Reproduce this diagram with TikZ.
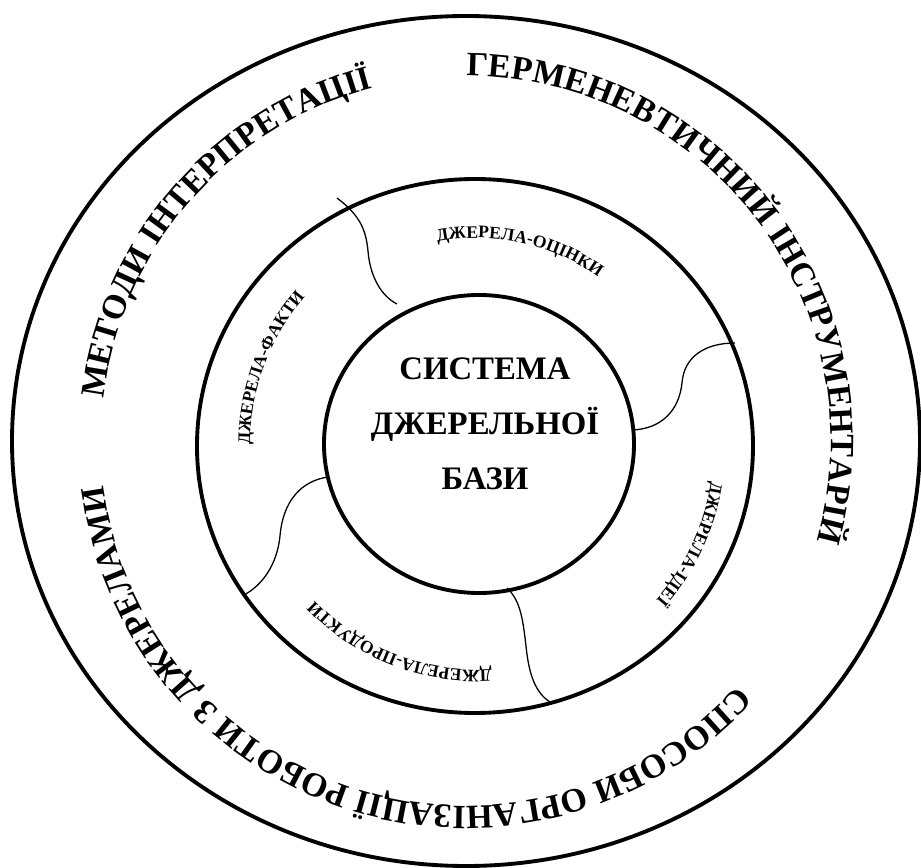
\documentclass[tikz,border=0pt]{standalone}
\usepackage{fontspec}
\setmainfont{Liberation Serif}
\usetikzlibrary{decorations.text}

\newcommand{\ringfont}{\fontsize{29}{29}\selectfont\bfseries}
\newcommand{\partfont}{\fontsize{15}{15}\selectfont\bfseries}
\newcommand{\basefont}{\fontsize{28}{47}\selectfont\bfseries}

\tikzset{
	ring/.style={line width=3.3pt},
	divider/.style={line width=1.1pt},
	ringtext/.style={decorate, decoration={text along path, text align=center, text={#1}}}
}

\begin{document}
\begin{tikzpicture}
	\pgfsetxvec{\pgfpoint{0.03cm}{0.0cm}}
	\pgfsetyvec{\pgfpoint{0.0cm}{0.03cm}}
	\useasboundingbox (-466,-427) rectangle (455,441);

	\coordinate (c) at (0,0);
	\coordinate (m) at (11,-4);

	% three rings
	\draw[ring] (c) ellipse [x radius=454, y radius=425];
	\draw[ring] (9,-5) ellipse [x radius=278, y radius=267];
	\draw[ring] (13,-3) ellipse [x radius=155, y radius=149];

	\node[] at (19,17) [align=center, font=\basefont] (base) {СИСТЕМА\\ДЖЕРЕЛЬНОЇ\\БАЗИ};

	% dividers of the middle ring
	\coordinate (d1a) at (-129,243);
	\coordinate (d1b) at (-69,137);
	\coordinate (d2a) at (269,98);
	\coordinate (d2b) at (166,11);
	\coordinate (d3a) at (41,-147);
	\coordinate (d3b) at (84,-261);
	\coordinate (d4a) at (-138,-36);
	\coordinate (d4b) at (-222,-154);
	\draw[divider] (d1a) .. controls (-105,225) and (-100,210) .. (-98,190) .. controls (-96,165) and (-85,145) .. (d1b);
	\draw[divider] (d2a) .. controls (240,98) and (218,85) .. (216,58) .. controls (213,30) and (195,12) .. (d2b);
	\draw[divider] (d3a) .. controls (55,-160) and (57,-180) .. (60,-205) .. controls (63,-235) and (70,-252) .. (d3b);
	\draw[divider] (d4a) .. controls (-165,-40) and (-183,-60) .. (-186,-95) .. controls (-189,-125) and (-205,-145) .. (d4b);

	% texts of the middle ring
	\path[ringtext={|\partfont|ДЖЕРЕЛА-ОЦІНКИ}] (m) ++(127.6:207) arc[start angle=127.6, end angle=27.6, radius=207];
	\path[ringtext={|\partfont|ДЖЕРЕЛА-ФАКТИ}] (m) ++(209.6:227) arc[start angle=209.6, end angle=109.6, radius=227];
	\path[ringtext={|\partfont|ДЖЕРЕЛА-ІДЕЇ}] (m) ++(25.1:237) arc[start angle=25.1, end angle=-74.9, radius=237];
	\path[ringtext={|\partfont|ДЖЕРЕЛА-ПРОДУКТИ}] (m) ++(-61.3:225) arc[start angle=-61.3, end angle=-161.3, radius=225];

	% texts of the outer ring
	\path[ringtext={|\ringfont|МЕТОДИ ІНТЕРПРЕТАЦІЇ}] (c) ++(199:365) arc[start angle=199, end angle=79, radius=365];
	\path[ringtext={|\ringfont|ГЕРМЕНЕВТИЧНИЙ ІНСТРУМЕНТАРІЙ}] (c) ++(112:365) arc[start angle=112, end angle=-38, radius=365];
	\path[ringtext={|\ringfont|СПОСОБИ ОРГАНІЗАЦІЇ РОБОТИ З ДЖЕРЕЛАМИ}] (c) ++(-27.5:365) arc[start angle=-27.5, end angle=-187.5, radius=365];
\end{tikzpicture}
\end{document}
